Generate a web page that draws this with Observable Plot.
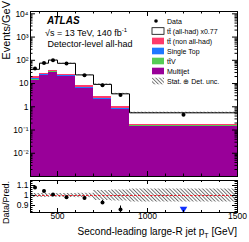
<!DOCTYPE html>
<html><head><meta charset="utf-8">
<script src="https://cdn.jsdelivr.net/npm/d3@7"></script>
<script src="https://cdn.jsdelivr.net/npm/@observablehq/plot@0.6"></script>
<style>
body{margin:0;background:#fff;}
#wrap{position:relative;width:249px;height:242px;font-family:"Liberation Sans",Arial,Helvetica,sans-serif;overflow:hidden;}
#wrap svg{position:absolute;left:0;}
</style></head><body><div id="wrap"></div>
<script>
// ---- data ----
const binEdges = [350, 400, 450, 500, 600, 700, 800, 900, 1500];
const dataValues = [44, 76, 100, 72, 23, 8.5, 3.2, 0.45];
const dataRelErr = [0.011, 0.01, 0.008, 0.009, 0.013, 0.022, 0.035, 0.1];
const multijet = [14, 22, 31, 20, 6.0, 2.05, 0.76, 0.145];
const ttV = [0.3, 0.4, 0.5, 0.4, 0.15, 0.06, 0.025, 0.004];
const singleTop = [2.5, 2.5, 2.5, 2.2, 0.8, 0.25, 0.09, 0.01];
const ttNonAllHad = [3.5, 3.0, 3.5, 2.8, 1.0, 0.35, 0.13, 0.012];
const ttAllHad = [20.7, 47.1, 64.5, 48.6, 15.55, 6.49, 2.6, 0.379];
const systRelUnc = [0.02, 0.02, 0.018, 0.02, 0.022, 0.05, 0.055, 0.065];
const ratioValues = [1.08, 1.045, 1.01, 0.983, 0.975, 0.93, 0.86, 0.82];
const ratioErrors = [0.012, 0.01, 0.008, 0.009, 0.012, 0.02, 0.035, 0.08];

const mainYTicks = [1e4, 1e3, 1e2, 10, 1, 0.1, 0.01];
const mainYLabels = ["10\u2074", "10\u00B3", "10\u00B2", "10", "1", "10\u207B\u00B9", "10\u207B\u00B2"];
const xMajorTicks = [500, 1000, 1500];
const xTickLabels = ["500", "1000", "1500"];
const xMinorTicks = [400, 600, 700, 800, 900, 1100, 1200, 1300, 1400];
const ratioYTicks = [0.9, 1, 1.1];
const ratioYLabels = ["0.9", "1", "1.1"];
const ratioYMinor = [0.84, 0.86, 0.88, 0.92, 0.94, 0.96, 0.98, 1.02, 1.04, 1.06, 1.08, 1.12, 1.14];

const colMultijet = "#990099", colTTV = "#55cc55", colST = "#1f78ff", colNonAH = "#ff3a6b";

// ---- derived tables ----
const yMin = 1e-3, yMax = Math.pow(10, 4.1);
const ratioDomain = [0.83, 1.15];
const bins = binEdges.slice(0, -1).map((x1, i) => ({i, x1, x2: binEdges[i + 1], xc: (x1 + binEdges[i + 1]) / 2}));
const components = [
  {values: multijet, color: colMultijet},
  {values: ttV, color: colTTV},
  {values: singleTop, color: colST},
  {values: ttNonAllHad, color: colNonAH},
  {values: ttAllHad, color: "#ffffff"}
];
const stackRows = [];
const totals = bins.map(b => {
  let cum = 0;
  for (const c of components) {
    const v = c.values[b.i];
    stackRows.push({x1: b.x1, x2: b.x2, y1: cum === 0 ? yMin : cum, y2: cum + v, color: c.color});
    cum += v;
  }
  return cum;
});
const stepPoints = binEdges.map((x, i) => ({x, y: totals[Math.min(i, totals.length - 1)]}));
const minorY = [];
for (let e = -3; e <= 4; e++) for (let k = 2; k <= 9; k++) { const v = k * Math.pow(10, e); if (v < yMax) minorY.push(v); }

const font = "'Liberation Sans', Arial, Helvetica, sans-serif";
const W = 249, mL = 30, mR = 12;
const plotW = W - mL - mR;

// ---- main panel ----
const mainH = 178, mT = 11, mB = 2, plotH = mainH - mT - mB;
const main = Plot.plot({
  width: W, height: mainH, marginLeft: mL, marginRight: mR, marginTop: mT, marginBottom: mB,
  style: {fontFamily: font, fontSize: "8.5px", background: "transparent", overflow: "visible", color: "black"},
  x: {domain: [350, 1500], axis: null},
  y: {type: "log", domain: [yMin, yMax], axis: null},
  color: {type: "identity"},
  marks: [
    Plot.rect(stackRows, {x1: "x1", x2: "x2", y1: "y1", y2: "y2", fill: "color", shapeRendering: "crispEdges"}),
    Plot.rect(bins, {x1: "x1", x2: "x2", y1: d => totals[d.i] * (1 - systRelUnc[d.i]), y2: d => totals[d.i] * (1 + systRelUnc[d.i]), fill: "url(#hatchMain)"}),
    Plot.line(stepPoints, {x: "x", y: "y", curve: "step-after", stroke: "black", strokeWidth: 1}),
    Plot.ruleX(bins, {x: "xc", y1: d => dataValues[d.i] * (1 - dataRelErr[d.i]), y2: d => dataValues[d.i] * (1 + dataRelErr[d.i]), stroke: "black"}),
    Plot.dot(bins, {x: "xc", y: d => dataValues[d.i], r: 2, fill: "black"}),
    Plot.tickX(xMajorTicks, {x: d => d, insetTop: plotH - 5, stroke: "black"}),
    Plot.tickX(xMinorTicks, {x: d => d, insetTop: plotH - 2.5, stroke: "black"}),
    Plot.tickX(xMajorTicks, {x: d => d, insetBottom: plotH - 5, stroke: "black"}),
    Plot.tickX(xMinorTicks, {x: d => d, insetBottom: plotH - 2.5, stroke: "black"}),
    Plot.tickY(mainYTicks, {y: d => d, insetRight: plotW - 5, stroke: "black"}),
    Plot.tickY(minorY, {y: d => d, insetRight: plotW - 2.5, stroke: "black"}),
    Plot.tickY(mainYTicks, {y: d => d, insetLeft: plotW - 5, stroke: "black"}),
    Plot.tickY(minorY, {y: d => d, insetLeft: plotW - 2.5, stroke: "black"}),
    Plot.axisY(mainYTicks, {anchor: "left", tickSize: 0, tickPadding: 2, fontSize: 8.5, label: null, tickFormat: d => mainYLabels[mainYTicks.indexOf(d)]}),
    Plot.frame({stroke: "black"})
  ]
});
main.style.top = "0px";

// ---- ratio panel ----
const rH = 64, rT = 2, rB = 30, rPlotH = rH - rT - rB;
const inRange = bins.filter(d => ratioValues[d.i] >= ratioDomain[0]);
const outRange = bins.filter(d => ratioValues[d.i] < ratioDomain[0]);
const ratio = Plot.plot({
  width: W, height: rH, marginLeft: mL, marginRight: mR, marginTop: rT, marginBottom: rB,
  style: {fontFamily: font, fontSize: "8.5px", background: "transparent", overflow: "visible", color: "black"},
  x: {domain: [350, 1500], axis: null},
  y: {domain: ratioDomain, axis: null},
  marks: [
    Plot.rect(bins, {x1: "x1", x2: "x2", y1: d => 1 - systRelUnc[d.i], y2: d => 1 + systRelUnc[d.i], fill: "url(#hatchRatio)"}),
    Plot.ruleY([1], {stroke: "#e8202a", strokeDasharray: "2.5,1.5", strokeWidth: 1}),
    Plot.ruleX(inRange, {x: "xc", y1: d => ratioValues[d.i] - ratioErrors[d.i], y2: d => ratioValues[d.i] + ratioErrors[d.i], stroke: "black", clip: true}),
    Plot.dot(inRange, {x: "xc", y: d => ratioValues[d.i], r: 2, fill: "black"}),
    Plot.dot(outRange, {x: "xc", y: () => ratioDomain[0] + 0.035, symbol: "triangle", rotate: 180, r: 2.8, fill: "#1030ff"}),
    Plot.tickX(xMajorTicks, {x: d => d, insetTop: rPlotH - 4, stroke: "black"}),
    Plot.tickX(xMinorTicks, {x: d => d, insetTop: rPlotH - 2, stroke: "black"}),
    Plot.tickX(xMajorTicks, {x: d => d, insetBottom: rPlotH - 4, stroke: "black"}),
    Plot.tickX(xMinorTicks, {x: d => d, insetBottom: rPlotH - 2, stroke: "black"}),
    Plot.tickY(ratioYTicks, {y: d => d, insetRight: plotW - 5, stroke: "black"}),
    Plot.tickY(ratioYMinor, {y: d => d, insetRight: plotW - 2.5, stroke: "black"}),
    Plot.tickY(ratioYTicks, {y: d => d, insetLeft: plotW - 5, stroke: "black"}),
    Plot.tickY(ratioYMinor, {y: d => d, insetLeft: plotW - 2.5, stroke: "black"}),
    Plot.axisY(ratioYTicks, {anchor: "left", tickSize: 0, tickPadding: 2, fontSize: 8.5, label: null, tickFormat: d => ratioYLabels[ratioYTicks.indexOf(d)]}),
    Plot.axisX(xMajorTicks, {anchor: "bottom", tickSize: 0, tickPadding: 0, fontSize: 8.5, label: null, tickFormat: d => xTickLabels[xMajorTicks.indexOf(d)]}),
    Plot.frame({stroke: "black"})
  ]
});
ratio.style.top = mainH + "px";

function addHatch(svg, id) {
  const ns = "http://www.w3.org/2000/svg";
  const defs = document.createElementNS(ns, "defs");
  defs.innerHTML = `<pattern id="${id}" patternUnits="userSpaceOnUse" width="2.6" height="2.6" patternTransform="rotate(-45)"><line x1="0.5" y1="-1" x2="0.5" y2="4" stroke="#555" stroke-width="0.8"/></pattern>`;
  svg.insertBefore(defs, svg.firstChild);
}
addHatch(main, "hatchMain");
addHatch(ratio, "hatchRatio");

const wrap = document.getElementById("wrap");
wrap.appendChild(main);
wrap.appendChild(ratio);

// ---- overlay texts and legend ----
const legendRows = [
  {label: "Data", kind: "dot"},
  {label: "t\u0074\u0304 (all-had) x0.77", kind: "box", fill: "#ffffff", stroke: "black"},
  {label: "t\u0074\u0304 (non all-had)", kind: "box", fill: colNonAH},
  {label: "Single Top", kind: "box", fill: colST},
  {label: "t\u0074\u0304V", kind: "box", fill: colTTV},
  {label: "Multijet", kind: "box", fill: colMultijet},
  {label: "Stat. \u2295 Det. unc.", kind: "hatch"}
];
let legendSvg = "";
legendRows.forEach((r, i) => {
  const cy = 21 + i * 10;
  if (r.kind === "dot") legendSvg += `<circle cx="156" cy="${cy}" r="1.8" fill="black"/>`;
  else if (r.kind === "box") legendSvg += `<rect x="152" y="${cy - 3.3}" width="12" height="6.6" fill="${r.fill}" stroke="${r.stroke || 'none'}" stroke-width="0.8"/>`;
  else legendSvg += `<rect x="152" y="${cy - 3.3}" width="12" height="6.6" fill="url(#hatchMain)"/>`;
  legendSvg += `<text x="167" y="${cy + 2.5}" font-size="7">${r.label}</text>`;
});
const ov = document.createElementNS("http://www.w3.org/2000/svg", "svg");
ov.setAttribute("width", 249); ov.setAttribute("height", 242);
ov.style.top = "0px"; ov.style.fontFamily = font; ov.style.pointerEvents = "none";
ov.innerHTML = `
<text x="47" y="24" font-size="10" font-weight="bold" font-style="italic">ATLAS</text>
<text x="45" y="35.5" font-size="9">\u221As = 13 TeV, 140 fb<tspan dy="-3.5" font-size="6">-1</tspan></text>
<text x="47.5" y="46.5" font-size="9">Detector-level all-had</text>
${legendSvg}
<text transform="translate(10,1) rotate(-90)" text-anchor="end" font-size="11">Events/GeV</text>
<text transform="translate(8.5,181) rotate(-90)" text-anchor="end" font-size="9">Data/Pred.</text>
<text x="237" y="235" text-anchor="end" font-size="10">Second-leading large-R jet p<tspan dy="2.5" font-size="7">T</tspan><tspan dy="-2.5"> [GeV]</tspan></text>
`;
wrap.appendChild(ov);
</script></body></html>
